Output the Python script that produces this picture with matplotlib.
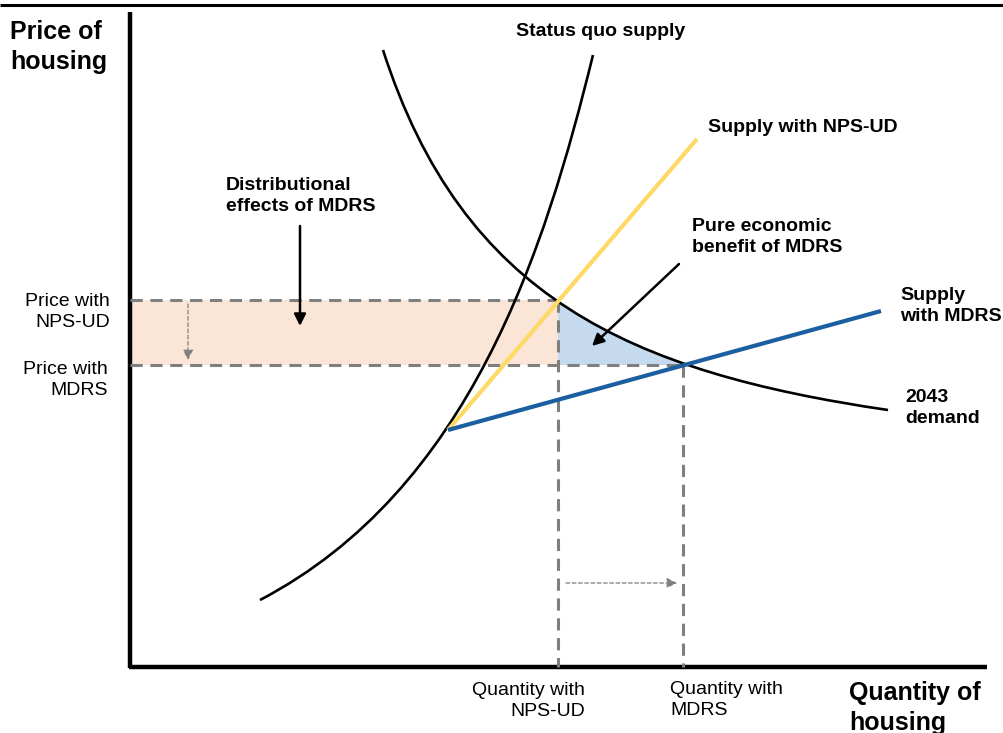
import matplotlib
matplotlib.use("Agg")
import matplotlib.pyplot as plt
from matplotlib.path import Path
from matplotlib.patches import PathPatch, Rectangle

plt.rcParams["font.family"] = ["Liberation Sans", "DejaVu Sans"]

# --- diagram data (drawing units, y grows downwards = lower price) ---
price_nps = 300
price_mdrs = 365
qty_nps = 558
qty_mdrs = 683
axis_origin_x = 130
axis_origin_y = 667

# cubic bezier control points for the two curves
sq_supply_x = [260, 470, 545, 593]
sq_supply_y = [600, 490, 250, 55]
demand_x = [383, 463, 630, 888]
demand_y = [50, 298, 372, 410]

# straight supply lines
nps_supply_x = [448, 697]
nps_supply_y = [430, 139]
mdrs_supply_x = [448, 881]
mdrs_supply_y = [430, 311]

BEZ = [Path.MOVETO, Path.CURVE4, Path.CURVE4, Path.CURVE4]
GREY = "#7f7f7f"


def bezier(xs, ys):
    return Path(list(zip(xs, ys)), BEZ)


fig = plt.figure(figsize=(10.04, 7.33), dpi=100)
ax = fig.add_axes([0, 0, 1, 1])
ax.set_xlim(0, 1004)
ax.set_ylim(733, 0)
ax.axis("off")

# top rule and axes
ax.plot([0, 1004], [5, 5], color="black", lw=2.2, solid_capstyle="butt")
ax.plot([axis_origin_x, axis_origin_x], [12, axis_origin_y + 1], color="black", lw=3.2,
        solid_capstyle="butt")
ax.plot([axis_origin_x - 1, 987], [axis_origin_y, axis_origin_y], color="black", lw=3.2,
        solid_capstyle="butt")

# shaded areas
ax.add_patch(Rectangle((axis_origin_x + 2, price_nps), qty_nps - axis_origin_x - 2,
                       price_mdrs - price_nps, facecolor="#fbe5d6", edgecolor="none", zorder=1))

under_demand = Path(list(zip(demand_x, demand_y)) + [(demand_x[-1], 733), (demand_x[0], 733),
                                                     (demand_x[0], demand_y[0])],
                    BEZ + [Path.LINETO, Path.LINETO, Path.CLOSEPOLY])
clip = PathPatch(under_demand, transform=ax.transData)
tri = Rectangle((qty_nps, price_nps), qty_mdrs - qty_nps, price_mdrs - price_nps,
                facecolor="#c5d9ef", edgecolor="none", zorder=1)
ax.add_patch(tri)
tri.set_clip_path(clip)

# dashed guide lines
dash = dict(color=GREY, lw=2.2, linestyle=(0, (4, 2.5)), zorder=2)
ax.plot([axis_origin_x, qty_nps], [price_nps, price_nps], **dash)
ax.plot([axis_origin_x, qty_mdrs], [price_mdrs, price_mdrs], **dash)
ax.plot([qty_nps, qty_nps], [price_nps, axis_origin_y], **dash)
ax.plot([qty_mdrs, qty_mdrs], [price_mdrs, axis_origin_y], **dash)

# curves
ax.add_patch(PathPatch(bezier(sq_supply_x, sq_supply_y), facecolor="none", edgecolor="black",
                       lw=1.9, zorder=3))
ax.add_patch(PathPatch(bezier(demand_x, demand_y), facecolor="none", edgecolor="black",
                       lw=1.9, zorder=3))
ax.plot(nps_supply_x, nps_supply_y, color="#ffd966", lw=3, zorder=4, solid_capstyle="butt")
ax.plot(mdrs_supply_x, mdrs_supply_y, color="#1c5fa0", lw=3, zorder=4, solid_capstyle="butt")

# small grey shift arrows
thin = dict(arrowstyle="-|>,head_length=0.6,head_width=0.3", color=GREY, lw=0.9,
            linestyle=(0, (3, 2)), shrinkA=0, shrinkB=0)
ax.annotate("", xy=(188, price_mdrs - 5), xytext=(188, price_nps + 4), arrowprops=thin, zorder=5)
ax.annotate("", xy=(qty_mdrs - 6, 583), xytext=(qty_nps + 8, 583), arrowprops=thin, zorder=5)

# black callout arrows
blk = dict(arrowstyle="-|>,head_length=0.7,head_width=0.35", color="black", lw=1.8,
           shrinkA=0, shrinkB=0)
ax.annotate("", xy=(300, 326), xytext=(300, 226), arrowprops=blk, zorder=6)
ax.annotate("", xy=(592, 346), xytext=(679, 264), arrowprops=blk, zorder=6)

# labels
bold = dict(fontsize=14, fontweight="bold", color="black", linespacing=1.35)
reg = dict(fontsize=14, color="black", linespacing=1.3)
ax.text(10, 47, "Price of\nhousing", fontsize=18, fontweight="bold", va="center", ha="left",
        linespacing=1.3)
ax.text(849, 708, "Quantity of\nhousing", fontsize=18, fontweight="bold", va="center", ha="left",
        linespacing=1.3)
ax.text(516, 31, "Status quo supply", va="center", ha="left", **bold)
ax.text(708, 128, "Supply with NPS-UD", va="center", ha="left", **bold)
ax.text(226, 196, "Distributional\neffects of MDRS", va="center", ha="left", **bold)
ax.text(692, 237, "Pure economic\nbenefit of MDRS", va="center", ha="left", **bold)
ax.text(900, 306, "Supply\nwith MDRS", va="center", ha="left", **bold)
ax.text(905, 408, "2043\ndemand", va="center", ha="left", **bold)

ax.text(110, 312, "Price with\nNPS-UD", va="center", ha="right", **reg)
ax.text(108, 380, "Price with\nMDRS", va="center", ha="right", **reg)
ax.text(585, 701, "Quantity with\nNPS-UD", va="center", ha="right", **reg)
ax.text(670, 700, "Quantity with\nMDRS", va="center", ha="left", **reg)

fig.savefig("out.png", dpi=100)
